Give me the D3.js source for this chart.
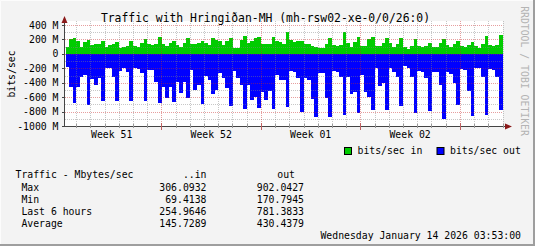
<!DOCTYPE html>
<html>
<head>
<meta charset="utf-8">
<script src="https://cdn.jsdelivr.net/npm/d3@7"></script>
<style>
	body { margin: 0; background: #f3f3f3; }
	text { font-family: "DejaVu Sans Mono", monospace; fill: #000; }
</style>
</head>
<body>
<div id="chart"></div>
<script>
// chart values (6 hour averages, Mbit/s)
var weekLabels = ["Week 51", "Week 52", "Week 01", "Week 02"];
var yTicks = [400, 200, 0, -200, -400, -600, -800, -1000];
var trafficIn = [
	99,205,219, 178,90,164,192, 122,136,136,173, 99,122,136,164,
	81,90,104,173, 108,99,145,201, 136,122,136,229, 136,108,145,183,
	122,99,145,215, 136,136,145,183, 155,117,215,192, 173,127,178,215,
	85,85,192,247, 145,183,215,229, 135,130,130,230, 178,160,136,306,
	188,160,175,180, 140,140,110,90, 85,85,140,215, 128,110,125,300,
	148,95,160,232, 113,113,205,238, 113,113,145,215, 145,90,130,215,
	90,69,108,201, 108,90,115,145, 90,90,145,201, 120,90,135,176,
	108,99,120,168, 108,76,135,247, 120,108,120,255
];
var trafficOut = [
	185,460,680, 466,318,295,707, 355,433,340,650, 193,193,318,650,
	234,193,245,650, 193,215,271,650, 225,225,386,688, 456,618,456,665,
	386,549,386,605, 225,502,433,698, 300,368,555,502, 260,340,480,725,
	234,330,433,767, 433,642,596,748, 526,642,512,767, 294,364,364,734,
	240,250,330,803, 330,360,628,873, 271,271,609,873, 234,248,318,850,
	318,560,535,817, 294,526,595,780, 202,447,410,780, 202,248,318,725,
	171,202,327,817, 234,248,340,790, 248,248,433,902, 250,280,410,711,
	216,225,517,864, 202,202,318,850, 216,225,320,781
];
var statRows = ["Max", "Min", "Last 6 hours", "Average"];
var statIn = ["306.0932", "69.4138", "254.9646", "145.7289"];
var statOut = ["902.0427", "170.7945", "781.3833", "430.4379"];

var start = Date.UTC(2025, 11, 15, 6),
	step = 6 * 3600 * 1000,
	day = 24 * 3600 * 1000,
	end = start + trafficIn.length * step;

var bars = trafficIn.map(function(v, i) {
	return { t0: new Date(start + i * step), t1: new Date(start + (i + 1) * step), vin: v, vout: -trafficOut[i] };
});

var svg = d3.select("#chart").append("svg")
	.attr("width", 535)
	.attr("height", 246);

//frame
svg.append("rect").attr("width", 535).attr("height", 246).style("fill", "#f3f3f3");
svg.append("path").attr("d", "M0.5,245.5V0.5H534.5").style("fill", "none").style("stroke", "#fcfcfc");
svg.append("path").attr("d", "M0,245H534V0").style("fill", "none").style("stroke", "#9e9e9e").style("stroke-width", 2);

var x = d3.scaleUtc().domain([new Date(start), new Date(end)]).range([65.5, 502.5]);
var y = d3.scaleLinear().domain([-1000, 400]).range([126, 25]);

//canvas
svg.append("rect")
	.attr("x", 65).attr("y", 21)
	.attr("width", 438).attr("height", 105)
	.style("fill", "#fff");

///////////////////////////////// bars /////////////////////////////////
var barG = svg.append("g").attr("shape-rendering", "crispEdges");
barG.selectAll(".in")
	.data(bars)
	.enter().append("rect")
	.attr("x", function(d) { return x(d.t0); })
	.attr("width", function(d) { return x(d.t1) - x(d.t0) + 0.1; })
	.attr("y", function(d) { return y(d.vin); })
	.attr("height", function(d) { return y(0) - y(d.vin); })
	.style("fill", "#00cc00");
barG.selectAll(".out")
	.data(bars)
	.enter().append("rect")
	.attr("x", function(d) { return x(d.t0); })
	.attr("width", function(d) { return x(d.t1) - x(d.t0) + 0.1; })
	.attr("y", y(0))
	.attr("height", function(d) { return y(d.vout) - y(0); })
	.style("fill", "#0000ff");

///////////////////////////////// grid /////////////////////////////////
var grid = svg.append("g").attr("shape-rendering", "crispEdges");
var minorY = d3.range(-900, 500, 100).filter(function(v) { return v % 200 !== 0; });
grid.selectAll(".hminor").data(minorY).enter().append("line")
	.attr("x1", 65).attr("x2", 503)
	.attr("y1", function(d) { return Math.round(y(d)) + 0.5; })
	.attr("y2", function(d) { return Math.round(y(d)) + 0.5; })
	.style("stroke", "rgba(130,130,130,0.45)").style("stroke-dasharray", "1,1");
grid.selectAll(".hmajor").data(yTicks.slice(0, -1)).enter().append("line")
	.attr("x1", 65).attr("x2", 503)
	.attr("y1", function(d) { return Math.round(y(d)) + 0.5; })
	.attr("y2", function(d) { return Math.round(y(d)) + 0.5; })
	.style("stroke", "rgba(200,40,40,0.45)").style("stroke-dasharray", "1,1");

var days = d3.utcDay.range(new Date(start), new Date(end + 1));
grid.selectAll(".vgrid").data(days).enter().append("line")
	.attr("x1", function(d) { return Math.round(x(d)) + 0.5; })
	.attr("x2", function(d) { return Math.round(x(d)) + 0.5; })
	.attr("y1", 21).attr("y2", 126)
	.style("stroke", function(d) { return d.getUTCDay() === 1 ? "rgba(200,40,40,0.45)" : "rgba(130,130,130,0.45)"; })
	.style("stroke-dasharray", "1,1");

///////////////////////////////// axes /////////////////////////////////
svg.append("line").attr("x1", 64.5).attr("x2", 64.5).attr("y1", 21).attr("y2", 127)
	.style("stroke", "#444");
svg.append("line").attr("x1", 62).attr("x2", 507).attr("y1", 126.5).attr("y2", 126.5)
	.style("stroke", "#444");
svg.append("path").attr("d", "M61.5,23L64.5,16L67.5,23Z").style("fill", "#8b1a1a");
svg.append("path").attr("d", "M505,123.5L512,126.5L505,129.5Z").style("fill", "#8b1a1a");

svg.selectAll(".ytick").data(yTicks).enter().append("line")
	.attr("x1", 62).attr("x2", 64.5)
	.attr("y1", function(d) { return Math.round(y(d)) + 0.5; })
	.attr("y2", function(d) { return Math.round(y(d)) + 0.5; })
	.style("stroke", "#444");
svg.selectAll(".xtick").data(days).enter().append("line")
	.attr("x1", function(d) { return Math.round(x(d)) + 0.5; })
	.attr("x2", function(d) { return Math.round(x(d)) + 0.5; })
	.attr("y1", function(d) { return d.getUTCDay() === 1 ? 123 : 124; })
	.attr("y2", function(d) { return d.getUTCDay() === 1 ? 130 : 128; })
	.style("stroke", function(d) { return d.getUTCDay() === 1 ? "#c06060" : "#999"; });

svg.selectAll(".ylabel").data(yTicks).enter().append("text")
	.attr("x", 58.5)
	.attr("y", function(d) { return y(d) + 3.6; })
	.style("text-anchor", "end")
	.style("font-size", "9.8px")
	.text(function(d) { return d === 0 ? "0" : d + " M"; });

var mondays = days.filter(function(d) { return d.getUTCDay() === 1; });
var weekStarts = [new Date(mondays[0].getTime() - 7 * day)].concat(mondays.slice(0, 3));
svg.selectAll(".week").data(weekStarts).enter().append("text")
	.attr("x", function(d) { return x(new Date(d.getTime() + 3.5 * day)); })
	.attr("y", 138)
	.style("text-anchor", "middle")
	.style("font-size", "9.8px")
	.text(function(d, i) { return weekLabels[i]; });

svg.append("text")
	.attr("transform", "translate(14.5,74) rotate(-90)")
	.style("text-anchor", "middle")
	.style("font-size", "9.8px")
	.text("bits/sec");

svg.append("text")
	.attr("x", 265.5).attr("y", 22)
	.style("text-anchor", "middle")
	.style("font-size", "11.4px")
	.text("Traffic with Hringiðan-MH (mh-rsw02-xe-0/0/26:0)");

svg.append("text")
	.attr("transform", "translate(521,71) rotate(90)")
	.style("text-anchor", "middle")
	.style("font-size", "9.8px")
	.style("fill", "#b4b4b4")
	.text("RRDTOOL / TOBI OETIKER");

///////////////////////////////// legend /////////////////////////////////
var legend = [{ c: "#00cc00", t: "bits/sec in", x: 344 }, { c: "#0000ff", t: "bits/sec out", x: 436.5 }];
var lg = svg.selectAll(".lg").data(legend).enter().append("g");
lg.append("rect")
	.attr("x", function(d) { return d.x + 0.5; }).attr("y", 147.5)
	.attr("width", 7).attr("height", 7)
	.style("fill", function(d) { return d.c; })
	.style("stroke", "#000");
lg.append("text")
	.attr("x", function(d) { return d.x + 13.5; }).attr("y", 154)
	.style("font-size", "9.8px")
	.text(function(d) { return d.t; });

///////////////////////////////// stats /////////////////////////////////
svg.append("text").attr("x", 15.5).attr("y", 178).style("font-size", "9.8px").style("white-space", "pre")
	.text("Traffic - Mbytes/sec");
svg.append("text").attr("x", 206.5).attr("y", 178).style("font-size", "9.8px").style("text-anchor", "end").text("..in");
svg.append("text").attr("x", 295).attr("y", 178).style("font-size", "9.8px").style("text-anchor", "end").text("out");

statRows.forEach(function(r, i) {
	var yy = 190.5 + i * 12;
	svg.append("text").attr("x", 21.4).attr("y", yy).style("font-size", "9.8px").text(r);
	svg.append("text").attr("x", 206.5).attr("y", yy).style("font-size", "9.8px").style("text-anchor", "end").text(statIn[i]);
	svg.append("text").attr("x", 304).attr("y", yy).style("font-size", "9.8px").style("text-anchor", "end").text(statOut[i]);
});

svg.append("text").attr("x", 521).attr("y", 239)
	.style("font-size", "9.8px").style("text-anchor", "end")
	.text("Wednesday January 14 2026 03:53:00");
</script>
</body>
</html>
